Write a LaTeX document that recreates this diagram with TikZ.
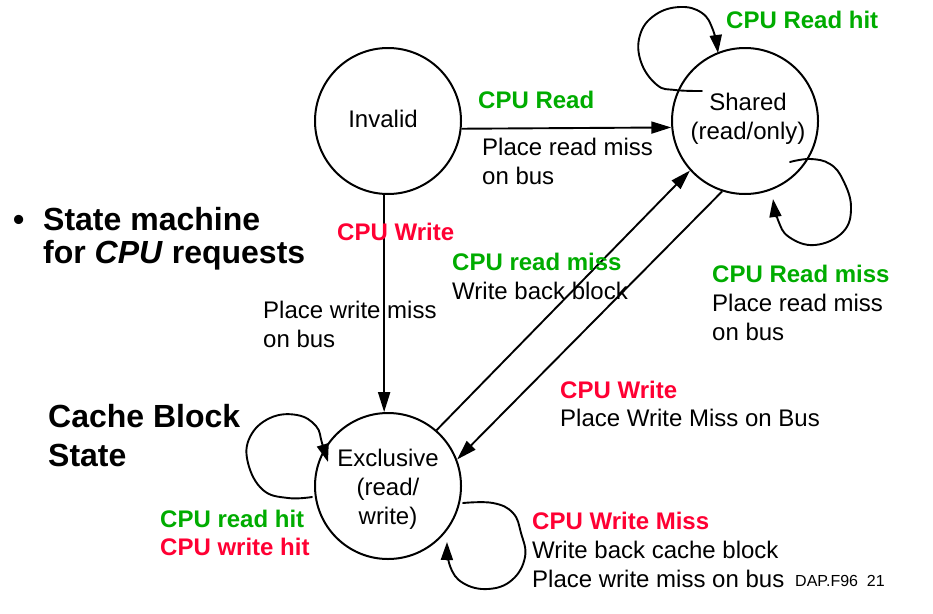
\documentclass[tikz,border=0pt]{standalone}
\usepackage{fontspec}
\setmainfont{Liberation Sans}
\usetikzlibrary{arrows.meta}
\definecolor{cgreen}{RGB}{0,172,0}
\definecolor{cred}{RGB}{255,0,51}
\begin{document}
\begin{tikzpicture}[x=1pt,y=-1pt,
  state/.style={circle,draw=black,line width=2pt,inner sep=0pt,minimum size=146pt,
    align=center,font=\fontsize{24}{29}\selectfont},
  lbl/.style={inner sep=0pt,anchor=base west,align=left,font=\fontsize{24}{29}\selectfont},
  big/.style={inner sep=0pt,anchor=base west,align=left,font=\fontsize{32}{39}\selectfont\bfseries},
  tr/.style={line width=1.9pt,-{Triangle[length=20pt,width=12pt]}},
  lp/.style={line width=1.9pt,-{Triangle[length=18pt,width=12pt]},line join=round,line cap=round},
  g/.style={text=cgreen},
]
\useasboundingbox (0,0) rectangle (933,613);
% states
\node[state] (inv) at (388,121) {};
\node[state] (sh) at (745,121) {};
\node[state] (ex) at (388,486) {};
% multi-line nodes are placed at the baseline of their last line
\node[inner sep=0pt,anchor=base,font=\fontsize{24}{29}\selectfont] (invt) at (383,127) {Invalid};
\node[inner sep=0pt,anchor=base,align=center,font=\fontsize{24}{29}\selectfont] (sht) at (748,139) {Shared\\(read/only)};
\node[inner sep=0pt,anchor=base,align=center,font=\fontsize{24}{29}\selectfont] (ext) at (388,524) {Exclusive\\(read/\\write)};
% transitions
\draw[tr] (inv.-6) -- (sh.185);
\draw[tr] (inv.-93) -- (ex.93);
\draw[tr] (ex.49) -- (sh.222);
\draw[tr] (sh.252) -- (ex.21);
% self loops
\draw[lp] plot[smooth,tension=0.7] coordinates {(702,91) (675,90) (657,85) (641,62) (640,35) (655,15) (680,7) (702,13) (713,30) (718,53)};
\draw[lp] plot[smooth,tension=0.7] coordinates {(790,162) (810,159) (830,164) (843,180) (851,207) (843,232) (815,245) (789,237) (778,220) (773,199)};
\draw[lp] plot[smooth,tension=0.7] coordinates {(312,497) (288,498) (263,490) (248,463) (250,437) (270,418) (297,415) (316,426) (322,443) (328,462)};
\draw[lp] plot[smooth,tension=0.7] coordinates {(463,503) (493,503) (513,513) (521,533) (525,557) (512,580) (488,589) (463,583) (450,566) (447,542)};
% labels
\node[lbl,g,font=\fontsize{24}{29}\selectfont\bfseries] (l1) at (726,28) {CPU Read hit};
\node[lbl,g,font=\fontsize{24}{29}\selectfont\bfseries] (l2) at (478,108) {CPU Read};
\node[lbl] (l3) at (482,184) {Place read miss\\on bus};
\node[lbl,text=cred,font=\fontsize{24}{29}\selectfont\bfseries] (l4) at (337,240) {CPU Write};
\node[lbl] (l5) at (263,347) {Place write miss\\on bus};
\node[lbl] (l6) at (452,299) {\textcolor{cgreen}{\bfseries CPU read miss}\\Write back block};
\node[lbl] (l7) at (712,340) {\textcolor{cgreen}{\bfseries CPU Read miss}\\Place read miss\\on bus};
\node[lbl,font=\fontsize{24}{28}\selectfont] (l8) at (560,426) {\textcolor{cred}{\bfseries CPU Write}\\Place Write Miss on Bus};
\node[lbl,font=\fontsize{24}{28}\selectfont\bfseries] (l9) at (160,555) {\textcolor{cgreen}{CPU read hit}\\\textcolor{cred}{CPU write hit}};
\node[lbl] (l10) at (532,587) {\textcolor{cred}{\bfseries CPU Write Miss}\\Write back cache block\\Place write miss on bus};
\node[inner sep=0pt,anchor=base west,font=\fontsize{16}{19}\selectfont] (l11) at (795,586) {DAP.F96\ \ 21};
% titles
\node[big] (b0) at (13,230) {•};
\node[big,font=\fontsize{32}{33}\selectfont\bfseries] (b1) at (43,263) {State machine\\for \textit{CPU} requests};
\node[big] (b2) at (48,466) {Cache Block\\State};
\end{tikzpicture}
\end{document}
